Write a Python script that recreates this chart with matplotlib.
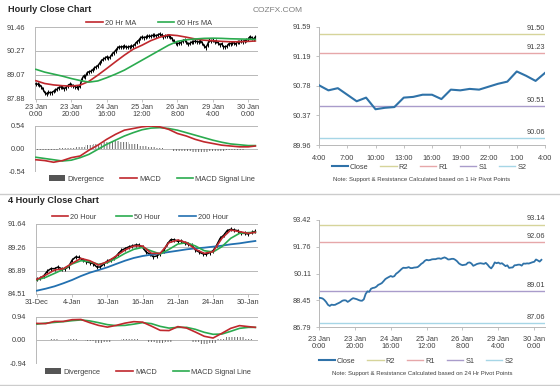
import numpy as np
import matplotlib
matplotlib.use("Agg")
import matplotlib.pyplot as plt
from matplotlib.lines import Line2D
from matplotlib.patches import Patch

plt.rcParams['font.family'] = ['Liberation Sans', 'DejaVu Sans']
plt.rcParams['hatch.linewidth'] = 0.7

# ---------------- DATA ----------------
# Hourly closes, 23 Jan 0:00 (bar 0) .. 30 Jan 4:00 (bar 124), trading hours only
hourly_close = [
    88.61, 88.60, 88.57, 88.48, 88.35, 88.18, 88.11, 88.19, 88.17, 88.18,
    88.24, 88.29, 88.35, 88.43, 88.46, 88.45, 88.36, 88.43, 88.52, 88.59,
    88.56, 88.53, 88.48, 88.44, 88.43, 88.52, 88.85, 89.01, 88.98, 89.17,
    89.22, 89.24, 89.30, 89.41, 89.46, 89.52, 89.64, 89.77, 89.84, 89.90,
    89.96, 89.91, 89.95, 90.10, 90.18, 90.28, 90.39, 90.47, 90.46, 90.47,
    90.51, 90.45, 90.45, 90.48, 90.49, 90.51, 90.60, 90.71, 90.78, 90.90,
    90.96, 90.93, 90.95, 90.99, 91.00, 91.00, 91.04, 91.05, 91.02, 91.07,
    91.11, 91.06, 90.98, 90.99, 91.02, 91.02, 90.96, 90.87, 90.74, 90.67,
    90.63, 90.65, 90.67, 90.78, 90.80, 90.73, 90.59, 90.64, 90.70, 90.73,
    90.75, 90.73, 90.71, 90.77, 90.66, 90.52, 90.43, 90.58, 90.80, 90.75,
    90.79, 90.72, 90.75, 90.66, 90.57, 90.62, 90.46, 90.48, 90.49, 90.62,
    90.63, 90.66, 90.66, 90.60, 90.73, 90.72, 90.74, 90.73, 90.77, 90.81,
    90.84, 90.98, 90.92, 90.85, 90.96]
hourly_ticks = [0, 20, 40, 60, 80, 100, 120]
hourly_labels = ["23 Jan\n0:00", "23 Jan\n20:00", "24 Jan\n16:00", "25 Jan\n12:00",
                 "26 Jan\n8:00", "29 Jan\n4:00", "30 Jan\n0:00"]

# moving averages / MACD for hourly chart, sampled at these bars
h_sample = [0, 5, 10, 15, 20, 25, 30, 35, 40, 45, 50, 55, 60, 65, 70, 75,
            80, 85, 90, 95, 100, 105, 110, 115, 120, 124]
ma20_hr = [88.77, 88.63, 88.56, 88.52, 88.50, 88.55, 88.74, 89.05, 89.38, 89.72,
           90.05, 90.35, 90.55, 90.78, 90.95, 91.07, 91.03, 90.95, 90.86, 90.80,
           90.77, 90.74, 90.72, 90.72, 90.74, 90.76]
ma60_hr = [89.34, 89.20, 89.10, 89.00, 88.88, 88.78, 88.70, 88.76, 88.92, 89.10,
           89.30, 89.55, 89.80, 90.05, 90.30, 90.55, 90.74, 90.82, 90.86, 90.89,
           90.90, 90.89, 90.87, 90.86, 90.85, 90.84]
macd_hr = [-0.27, -0.29, -0.33, -0.29, -0.22, -0.18, -0.04, 0.08, 0.22, 0.34,
           0.44, 0.48, 0.52, 0.54, 0.52, 0.46, 0.36, 0.30, 0.22, 0.16,
           0.12, 0.08, 0.06, 0.04, 0.04, 0.06]
signal_hr = [-0.21, -0.24, -0.27, -0.30, -0.28, -0.22, -0.14, -0.02, 0.10, 0.20,
             0.30, 0.38, 0.45, 0.49, 0.50, 0.48, 0.44, 0.38, 0.32, 0.26,
             0.20, 0.15, 0.11, 0.09, 0.07, 0.07]
div_hr = [-0.03, -0.03, -0.03, 0.01, 0.01, 0.03, 0.08, 0.12, 0.15, 0.17,
          0.15, 0.10, 0.07, 0.04, 0.01, -0.02, -0.05, -0.07, -0.08, -0.08,
          -0.07, -0.05, -0.04, -0.03, -0.01, 0.0]

# last 24 hours (29 Jan 4:00 .. 30 Jan 4:00)
day_labels = ["4:00", "7:00", "10:00", "13:00", "16:00", "19:00", "22:00", "1:00", "4:00"]
levels_1h = {"R2": 91.50, "R1": 91.23, "S1": 90.51, "S2": 90.06}
levels_24h = {"R2": 93.14, "R1": 92.06, "S1": 89.01, "S2": 87.06}

# 4-hourly chart, closes every second 4h bar from 31-Dec (bar 0) to 30-Jan (bar 124)
h4_close = [86.00, 86.11, 86.38, 86.85, 87.09, 87.09, 87.26, 87.09, 87.06, 87.29,
            87.97, 88.28, 88.24, 87.97, 87.80, 87.70, 87.60, 87.26, 87.26, 87.57,
            87.87, 88.01, 88.14, 88.58, 88.96, 89.13, 89.30, 89.40, 89.50, 89.50,
            89.26, 88.79, 88.58, 88.31, 88.38, 88.62, 88.92, 89.60, 90.04, 90.04,
            89.87, 89.94, 89.67, 89.60, 89.47, 88.99, 88.79, 88.62, 88.55, 88.72,
            88.92, 89.47, 90.18, 90.49, 90.96, 91.10, 91.03, 90.96, 90.69, 90.69,
            90.62, 90.79, 90.89]
h4_ticks = [0, 20, 40, 60, 80, 100, 120]
h4_labels = ["31-Dec", "4-Jan", "10-Jan", "16-Jan", "21-Jan", "24-Jan", "30-Jan"]
ma20_4h = [86.00, 86.44, 86.95, 87.09, 87.63, 88.14, 87.90, 87.46, 87.80, 88.38,
           88.99, 89.40, 89.40, 88.65, 88.65, 89.74, 90.01, 89.74, 89.06, 88.65,
           88.82, 90.18, 91.03, 90.86, 90.69, 90.79]
ma50_4h = [85.94, 86.21, 86.61, 87.02, 87.57, 87.90, 87.80, 87.53, 87.70, 88.14,
           88.65, 89.06, 89.26, 88.89, 88.58, 89.06, 89.60, 89.74, 89.40, 88.92,
           88.79, 89.33, 90.18, 90.69, 90.76, 90.79]
ma200_4h = [84.85, 85.05, 85.29, 85.60, 85.94, 86.34, 86.68, 86.95, 87.23, 87.57,
            87.90, 88.18, 88.38, 88.52, 88.65, 88.79, 88.92, 89.06, 89.16, 89.23,
            89.33, 89.43, 89.57, 89.67, 89.81, 89.91]
macd_4h = [0.67, 0.66, 0.75, 0.75, 0.82, 0.83, 0.70, 0.59, 0.52, 0.59,
           0.68, 0.74, 0.72, 0.56, 0.39, 0.38, 0.54, 0.48, 0.32, 0.15,
           0.08, 0.27, 0.47, 0.58, 0.54, 0.51]
signal_4h = [0.64, 0.68, 0.71, 0.74, 0.78, 0.81, 0.77, 0.70, 0.62, 0.58,
             0.59, 0.64, 0.70, 0.66, 0.55, 0.48, 0.51, 0.51, 0.43, 0.31,
             0.23, 0.24, 0.35, 0.47, 0.51, 0.51]
div_4h = [0.02, 0.02, 0.03, 0.01, 0.03, 0.02, -0.05, -0.11, -0.10, 0.0,
          0.04, 0.04, 0.02, -0.08, -0.13, -0.10, 0.02, -0.02, -0.10, -0.16,
          -0.14, 0.04, 0.13, 0.11, 0.03, 0.0]

# ---------------- STYLE ----------------
W, H = 560, 386
RED = '#c0282d'
GREEN = '#2bab4f'
BLUE = '#2270b0'
CLOSE = '#2f72a8'
LVL_COL = {"R2": '#d6d49a', "R1": '#e6a7a9', "S1": '#a99ccb', "S2": '#a6d6e6'}
GRID = '#b8b8b8'
TXT = '#404040'
FS = 5.3

fig = plt.figure(figsize=(W / 100, H / 100), dpi=100)


def rect(l, t, r, b):
    return [l / W, 1 - b / H, (r - l) / W, (b - t) / H]


def style(ax, ypad=5, xpad=3):
    for s in ('top', 'right'):
        ax.spines[s].set_visible(False)
    for s in ('left', 'bottom'):
        ax.spines[s].set_color(GRID)
        ax.spines[s].set_linewidth(0.7)
    ax.tick_params(axis='both', colors=GRID, labelcolor=TXT, labelsize=FS,
                   length=2.5, width=0.6)
    ax.tick_params(axis='y', pad=ypad)
    ax.tick_params(axis='x', pad=xpad)


def set_yticks(ax, lo, hi, n, labels, grid=True):
    ticks = np.linspace(lo, hi, n)
    ax.set_ylim(lo, hi)
    ax.set_yticks(ticks)
    ax.set_yticklabels(labels)
    if grid:
        for t in ticks[1:]:
            ax.axhline(t, color=GRID, lw=0.7, zorder=0)


def legend(handles, labels, cx, cy, cs=1.6):
    fig.legend(handles, labels, loc='center', bbox_to_anchor=(cx / W, 1 - cy / H),
               ncol=len(labels), frameon=False, fontsize=FS, handlelength=2.2,
               handletextpad=0.3, columnspacing=cs, borderpad=0, labelcolor=TXT)


hx = np.arange(len(hourly_close))
hs = np.array(h_sample)

# titles
fig.text(8 / W, 1 - 9 / H, "Hourly Close Chart", fontsize=6.6, fontweight='bold',
         color='#262626', va='center')
fig.text(278 / W, 1 - 10 / H, "COZFX.COM", fontsize=6, color='#7f7f7f',
         va='center', ha='center')
fig.text(8 / W, 1 - 201 / H, "4 Hourly Close Chart", fontsize=6.6, fontweight='bold',
         color='#262626', va='center')

# separators
for yy in (193.5, 384.5):
    fig.add_artist(Line2D([0, 1], [1 - yy / H] * 2, color='#cccccc', lw=1.0,
                          transform=fig.transFigure))

# ---- hourly price ----
ax1 = fig.add_axes(rect(35, 27, 258, 98.5))
style(ax1, ypad=7, xpad=1.5)
set_yticks(ax1, 87.88, 91.46, 4, ["87.88", "89.07", "90.27", "91.46"])
ax1.plot(hx, hourly_close, color='black', lw=1.1, marker='|', ms=2.8, mew=0.7, zorder=3)
ax1.plot(hs, ma20_hr, color=RED, lw=1.2, zorder=4)
ax1.plot(hs, ma60_hr, color=GREEN, lw=1.2, zorder=4)
ax1.set_xlim(-0.5, 125.5)
ax1.set_xticks(hourly_ticks)
ax1.set_xticklabels(hourly_labels, linespacing=0.95)
ax1.tick_params(axis='y', length=0)
legend([Line2D([], [], color=RED, lw=1.2), Line2D([], [], color=GREEN, lw=1.2)],
       ["20 Hr MA", "60 Hrs MA"], 149, 23, cs=3.0)

# ---- hourly MACD ----
ax2 = fig.add_axes(rect(35, 126, 258, 171))
style(ax2, ypad=7)
set_yticks(ax2, -0.54, 0.54, 3, ["-0.54", "0.00", "0.54"])
ax2.bar(hs, div_hr, width=5, facecolor='none', edgecolor='#6a6a6a', hatch='||||||',
        linewidth=0, zorder=2)
ax2.plot(hs, macd_hr, color=RED, lw=1.2, zorder=4)
ax2.plot(hs, signal_hr, color=GREEN, lw=1.2, zorder=3)
ax2.set_xlim(-0.5, 125.5)
ax2.set_xticks([])
ax2.spines['bottom'].set_visible(False)
ax2.tick_params(axis='y', length=0)
legend([Patch(facecolor='#555555'), Line2D([], [], color=RED, lw=1.2),
        Line2D([], [], color=GREEN, lw=1.2)],
       ["Divergence", "MACD", "MACD Signal Line"], 152, 179, cs=2.2)

# ---- last 24h with 1h pivots ----
ax3 = fig.add_axes(rect(319, 26.7, 545, 145))
style(ax3, ypad=3, xpad=5)
set_yticks(ax3, 89.968, 91.596, 5, ["89.96", "90.37", "90.78", "91.19", "91.59"], grid=False)
day_close = hourly_close[-25:]
dx = np.arange(len(day_close))
for k, v in levels_1h.items():
    ax3.axhline(v, color=LVL_COL[k], lw=1.0, zorder=1)
    ax3.annotate(f"{v:.2f}", xy=(1, v), xycoords=('axes fraction', 'data'),
                 xytext=(0, 1.5), textcoords='offset points', ha='right', va='bottom',
                 fontsize=FS, color=TXT)
ax3.plot(dx, day_close, color=CLOSE, lw=1.5, zorder=3)
ax3.set_xlim(0, 24)
ax3.set_xticks(np.arange(0, 25, 3))
ax3.set_xticklabels(day_labels)
lvl_handles = [Line2D([], [], color=CLOSE, lw=1.5)] + \
    [Line2D([], [], color=LVL_COL[k], lw=1.0) for k in levels_1h]
legend(lvl_handles, ["Close"] + list(levels_1h), 429, 167, cs=1.6)
fig.text(422 / W, 1 - 180 / H, "Note: Support & Resistance Calculated based on 1 Hr Pivot Points",
         fontsize=4.3, color=TXT, ha='center', va='center')

# ---- 4-hourly price ----
h4x = np.arange(len(h4_close)) * 2
ax4 = fig.add_axes(rect(36, 224, 258, 294))
style(ax4, ypad=7, xpad=1.0)
set_yticks(ax4, 84.51, 91.64, 4, ["84.51", "86.89", "89.26", "91.64"])
ax4.plot(h4x, h4_close, color='black', lw=1.1, marker='|', ms=2.8, mew=0.7, zorder=3)
ax4.plot(hs, ma200_4h, color=BLUE, lw=1.3, zorder=4)
ax4.plot(hs, ma50_4h, color=GREEN, lw=1.2, zorder=4)
ax4.plot(hs, ma20_4h, color=RED, lw=1.2, zorder=5)
ax4.set_xlim(-0.5, 125.5)
ax4.set_xticks(h4_ticks)
ax4.set_xticklabels(h4_labels)
ax4.tick_params(axis='y', length=0)
legend([Line2D([], [], color=RED, lw=1.2), Line2D([], [], color=GREEN, lw=1.2),
        Line2D([], [], color=BLUE, lw=1.2)],
       ["20 Hour", "50 Hour", "200 Hour"], 140, 217, cs=2.6)

# ---- 4-hourly MACD ----
ax5 = fig.add_axes(rect(36, 316.7, 258, 363.3))
style(ax5, ypad=7)
set_yticks(ax5, -0.94, 0.94, 3, ["-0.94", "0.00", "0.94"])
ax5.bar(hs, div_4h, width=5, facecolor='none', edgecolor='#6a6a6a', hatch='||||||',
        linewidth=0, zorder=2)
ax5.plot(hs, macd_4h, color=RED, lw=1.2, zorder=4)
ax5.plot(hs, signal_4h, color=GREEN, lw=1.2, zorder=3)
ax5.set_xlim(-0.5, 125.5)
ax5.set_xticks([])
ax5.spines['bottom'].set_visible(False)
ax5.tick_params(axis='y', length=0)
legend([Patch(facecolor='#555555'), Line2D([], [], color=RED, lw=1.2),
        Line2D([], [], color=GREEN, lw=1.2)],
       ["Divergence", "MACD", "MACD Signal Line"], 148, 372, cs=2.2)

# ---- hourly with 24h pivots ----
ax6 = fig.add_axes(rect(319, 220, 545, 327.3))
style(ax6, ypad=3, xpad=4)
set_yticks(ax6, 86.79, 93.42, 5, ["86.79", "88.45", "90.11", "91.76", "93.42"], grid=False)
for k, v in levels_24h.items():
    ax6.axhline(v, color=LVL_COL[k], lw=1.0, zorder=1)
    ax6.annotate(f"{v:.2f}", xy=(1, v), xycoords=('axes fraction', 'data'),
                 xytext=(0, 1.5), textcoords='offset points', ha='right', va='bottom',
                 fontsize=FS, color=TXT)
ax6.plot(hx, hourly_close, color=CLOSE, lw=1.3, zorder=3)
ax6.set_xlim(0, 126)
ax6.set_xticks(hourly_ticks)
ax6.set_xticklabels(hourly_labels, linespacing=0.95)
legend(lvl_handles, ["Close"] + list(levels_24h), 416, 361, cs=1.6)
fig.text(422 / W, 1 - 373 / H, "Note: Support & Resistance Calculated based on 24 Hr Pivot Points",
         fontsize=4.3, color=TXT, ha='center', va='center')

fig.savefig("out.png", dpi=100)
